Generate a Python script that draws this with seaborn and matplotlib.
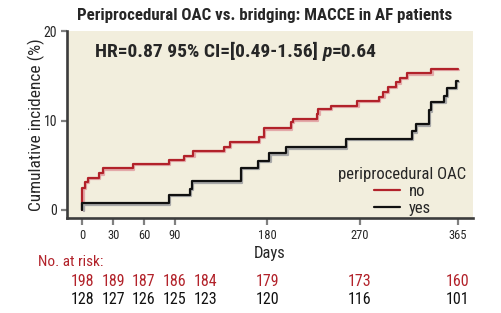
import numpy as np
import pandas as pd
import seaborn as sns
import matplotlib
matplotlib.use("Agg")
import matplotlib.pyplot as plt
import matplotlib.patheffects as pe
import matplotlib.transforms as mtransforms
from matplotlib.offsetbox import TextArea, HPacker, AnchoredOffsetbox
from matplotlib import font_manager

# ---------------- data ----------------
no_days = [0, 0, 2.5, 5.5, 16, 20, 49, 84.5, 99, 108, 138, 143.5, 172, 176.5, 203, 204.5,
           228, 229.5, 241.5, 267.5, 288.5, 292.7, 297, 305, 309, 315.5, 339.5, 365]
no_inc = [0, 2.45, 3.15, 3.6, 4.1, 4.65, 5.15, 5.6, 6.1, 6.6, 7.1, 7.65, 8.15, 9.15, 9.85, 10.15,
          10.8, 11.3, 11.7, 12.2, 12.7, 13.2, 13.75, 14.3, 14.8, 15.3, 15.8, 15.8]
yes_days = [0, 0, 84, 104.5, 106.5, 154, 171, 182, 198.5, 256, 320.5, 324.5, 337, 339, 352, 354.5, 363, 365]
yes_inc = [0, 0.75, 1.7, 2.4, 3.2, 4.75, 5.5, 6.35, 7.0, 7.95, 8.8, 9.6, 11.15, 12.1, 12.8, 13.7, 14.5, 14.5]

xticks = [0, 30, 60, 90, 180, 270, 365]
yticks = [0, 10, 20]
risk_days = [0, 30, 60, 90, 120, 180, 270, 365]
risk_no = [198, 189, 187, 186, 184, 179, 173, 160]
risk_yes = [128, 127, 126, 125, 123, 120, 116, 101]

title = "Periprocedural OAC vs. bridging: MACCE in AF patients"
hr_text = ["HR=0.87 95% CI=[0.49-1.56]", "p", "=0.64"]

RED = "#B2222A"
BLACK = "#111111"
BG = "#F2EEDD"

# ---------------- fonts ----------------
names = {f.name for f in font_manager.fontManager.ttflist}
FAMILY = "DejaVu Sans"
for cand in ["Roboto Condensed", "Liberation Sans Narrow", "Noto Sans Condensed",
             "Open Sans Condensed", "Barlow Semi Condensed", "Asap Condensed"]:
    if cand in names:
        FAMILY = cand
        break

sns.set_theme(style="white")
plt.rcParams["font.family"] = [FAMILY, "DejaVu Sans"]
if FAMILY == "DejaVu Sans":
    plt.rcParams["font.stretch"] = "condensed"

df = pd.concat([
    pd.DataFrame({"day": no_days, "inc": no_inc, "OAC": "no"}),
    pd.DataFrame({"day": yes_days, "inc": yes_inc, "OAC": "yes"}),
], ignore_index=True)

fig = plt.figure(figsize=(5.02, 3.13), dpi=100)
ax = fig.add_axes([66.7 / 502, (313 - 218) / 313, (472.7 - 66.7) / 502, (218 - 31) / 313])
ax.set_facecolor(BG)

sns.lineplot(data=df, x="day", y="inc", hue="OAC", palette={"no": RED, "yes": BLACK},
             estimator=None, sort=False, drawstyle="steps-post", linewidth=1.6, ax=ax, legend=True)

shadows = {"no": "#E3A9A9", "yes": "#A8A8A8"}
for line, key in zip(ax.get_lines()[:2], ["no", "yes"]):
    line.set_path_effects([pe.SimpleLineShadow(offset=(0.9, -0.9), shadow_color=shadows[key], alpha=1.0),
                           pe.Normal()])

ax.set_xlim(-15.2, 379.6)
ax.set_ylim(-0.9, 20.05)
ax.set_xticks(xticks)
ax.set_xticklabels([str(t) for t in xticks], fontsize=9)
ax.set_yticks(yticks)
ax.set_yticklabels([str(t) for t in yticks], fontsize=10)
ax.tick_params(axis="both", direction="out", length=4, width=1.6, color="#808080", pad=3,
               bottom=True, left=True)
ax.tick_params(axis="x", length=5)

for s in ["top", "right"]:
    ax.spines[s].set_visible(False)
for s in ["left", "bottom"]:
    ax.spines[s].set_color("#3C3C3C")
    ax.spines[s].set_linewidth(1.9)

ax.set_xlabel("Days", fontsize=12, labelpad=3)
ax.set_ylabel("Cumulative incidence (%)", fontsize=12.5, labelpad=-1)

handles, labels = ax.get_legend_handles_labels()
leg = ax.legend(handles, labels, title="periprocedural OAC", loc="lower right",
                bbox_to_anchor=(0.99, 0.0), frameon=False, fontsize=12, title_fontsize=12,
                handlelength=1.6, handletextpad=0.5, labelspacing=0.1, borderaxespad=0.0,
                borderpad=0.15)

# title
fig.text(0.528, 0.952, title, ha="center", va="center", fontsize=12.2, fontweight="bold")

# HR annotation
parts = [
    TextArea(hr_text[0] + " ", textprops=dict(fontsize=14, fontweight="bold")),
    TextArea(hr_text[1], textprops=dict(fontsize=14, fontweight="bold", style="italic")),
    TextArea(hr_text[2], textprops=dict(fontsize=14, fontweight="bold")),
]
box = HPacker(children=parts, align="baseline", pad=0, sep=0)
anch = AnchoredOffsetbox(loc="center left", child=box, pad=0, borderpad=0, frameon=False,
                         bbox_to_anchor=(0.0697, 0.888), bbox_transform=ax.transAxes)
ax.add_artist(anch)

# numbers at risk
trans = mtransforms.blended_transform_factory(ax.transData, fig.transFigure)
fig.text(0.0757, 0.163, "No. at risk:", ha="left", va="center", fontsize=11, color=RED)
for d, n1, n2 in zip(risk_days, risk_no, risk_yes):
    ax.text(d, 0.102, str(n1), transform=trans, ha="center", va="center", fontsize=11.5,
            color=RED, clip_on=False)
    ax.text(d, 0.0447, str(n2), transform=trans, ha="center", va="center", fontsize=11.5,
            color=BLACK, clip_on=False)

fig.savefig("out.png", dpi=100, facecolor="white")
